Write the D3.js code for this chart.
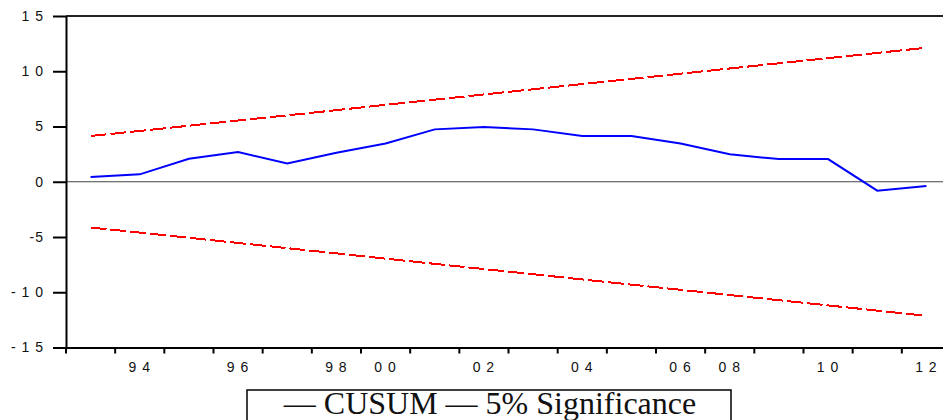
<!DOCTYPE html>
<html>
<head>
<meta charset="utf-8">
<script src="https://cdn.jsdelivr.net/npm/d3@7"></script>
<style>
    body { margin: 0; background: #fff; }
    svg { display: block; }
</style>
</head>
<body>
<svg width="943" height="420"></svg>
<script>
// years in the sample (07 is not in it)
var years = ["93", "94", "95", "96", "97", "98", "00", "01", "02", "03", "04", "05", "06", "08", "09", "10", "11", "12"];
var cusum = [0.42, 0.67, 2.08, 2.69, 1.66, 2.63, 3.47, 4.74, 4.95, 4.74, 4.14, 4.14, 3.47, 2.48, 2.05, 2.05, -0.81, -0.39];
var upper = [4.14, 4.6, 5.07, 5.54, 6.01, 6.48, 6.96, 7.43, 7.9, 8.37, 8.84, 9.31, 9.78, 10.25, 10.72, 11.19, 11.66, 12.13];
var lower = [-4.14, -4.6, -5.07, -5.54, -6.01, -6.48, -6.96, -7.43, -7.9, -8.37, -8.84, -9.31, -9.78, -10.25, -10.72, -11.19, -11.66, -12.13];
var xLabels = ["94", "96", "98", "00", "02", "04", "06", "08", "10", "12"];
var yTicks = [-15, -10, -5, 0, 5, 10, 15];
var yLabels = ["- 1 5", "- 1 0", "-5", "0", "5", "1 0", "1 5"];

var svg = d3.select('svg'),
    margin = { top: 16, left: 66 },
    plotRight = 951,
    plotBottom = 347.5;

svg.append("rect").attr("width", 943).attr("height", 420).attr("fill", "#fff");

var xScale = d3.scaleBand().domain(years).range([margin.left, plotRight]);
var yScale = d3.scaleLinear().domain([-15, 15]).range([plotBottom, margin.top]);
var xMid = d => xScale(d) + xScale.bandwidth() / 2;

// zero line
svg.append("line")
    .attr("x1", margin.left).attr("x2", plotRight)
    .attr("y1", yScale(0)).attr("y2", yScale(0))
    .attr("stroke", "#444").attr("stroke-width", 1);

// top border
svg.append("line")
    .attr("x1", margin.left).attr("x2", plotRight)
    .attr("y1", margin.top).attr("y2", margin.top)
    .attr("stroke", "#222").attr("stroke-width", 2);

// Y axis
var yAxis = d3.axisLeft(yScale)
    .tickValues(yTicks)
    .tickSize(13)
    .tickPadding(9)
    .tickSizeOuter(0)
    .tickFormat((d, i) => yLabels[i]);

var yAxisGroup = svg.append("g")
    .attr("transform", `translate(${margin.left},0)`)
    .call(yAxis);

// X axis: ticks at year boundaries, labels at year centres
var xAxis = d3.axisBottom(xScale)
    .tickSize(6)
    .tickSizeOuter(0)
    .tickFormat("");

var xAxisGroup = svg.append("g")
    .attr("transform", `translate(0,${plotBottom})`)
    .call(xAxis);
xAxisGroup.selectAll(".tick").attr("transform", d => `translate(${xScale(d)},0)`);

svg.selectAll(".xlab")
    .data(xLabels)
    .enter().append("text")
    .attr("class", "xlab")
    .attr("x", d => xMid(d))
    .attr("y", 372)
    .attr("text-anchor", "middle")
    .text(d => d[0] + " " + d[1]);

svg.selectAll(".domain").attr("stroke", "#000").attr("stroke-width", 2);
svg.selectAll(".tick line").attr("stroke", "#000").attr("stroke-width", 2);
yAxisGroup.attr("font-size", null).attr("font-family", null);
xAxisGroup.attr("font-size", null).attr("font-family", null);
svg.selectAll(".tick text, .xlab")
    .attr("fill", "#111")
    .attr("font-family", "Arial, 'Liberation Sans', sans-serif")
    .attr("font-size", 14)
    .attr("letter-spacing", 1)
    .style("white-space", "pre");

var line = d3.line().x((d, i) => xMid(years[i])).y(d => yScale(d));

svg.append("path")
    .attr("d", line(upper))
    .attr("fill", "none").attr("stroke", "#ff0000")
    .attr("stroke-width", 2).attr("stroke-dasharray", "16,4")
    .attr("shape-rendering", "crispEdges");

svg.append("path")
    .attr("d", line(lower))
    .attr("fill", "none").attr("stroke", "#ff0000")
    .attr("stroke-width", 2).attr("stroke-dasharray", "16,4")
    .attr("shape-rendering", "crispEdges");

svg.append("path")
    .attr("d", line(cusum))
    .attr("fill", "none").attr("stroke", "#0000ff")
    .attr("stroke-width", 2);

// Legend
svg.append("rect")
    .attr("x", 247).attr("y", 390)
    .attr("width", 484).attr("height", 40)
    .attr("fill", "#fff").attr("stroke", "#000").attr("stroke-width", 1.5);

svg.append("text")
    .attr("x", 490).attr("y", 414)
    .attr("text-anchor", "middle")
    .attr("font-family", "'Times New Roman', 'Liberation Serif', serif")
    .attr("font-size", 32)
    .attr("fill", "#111")
    .text("\u2014 CUSUM \u2014 5% Significance");
</script>
</body>
</html>
